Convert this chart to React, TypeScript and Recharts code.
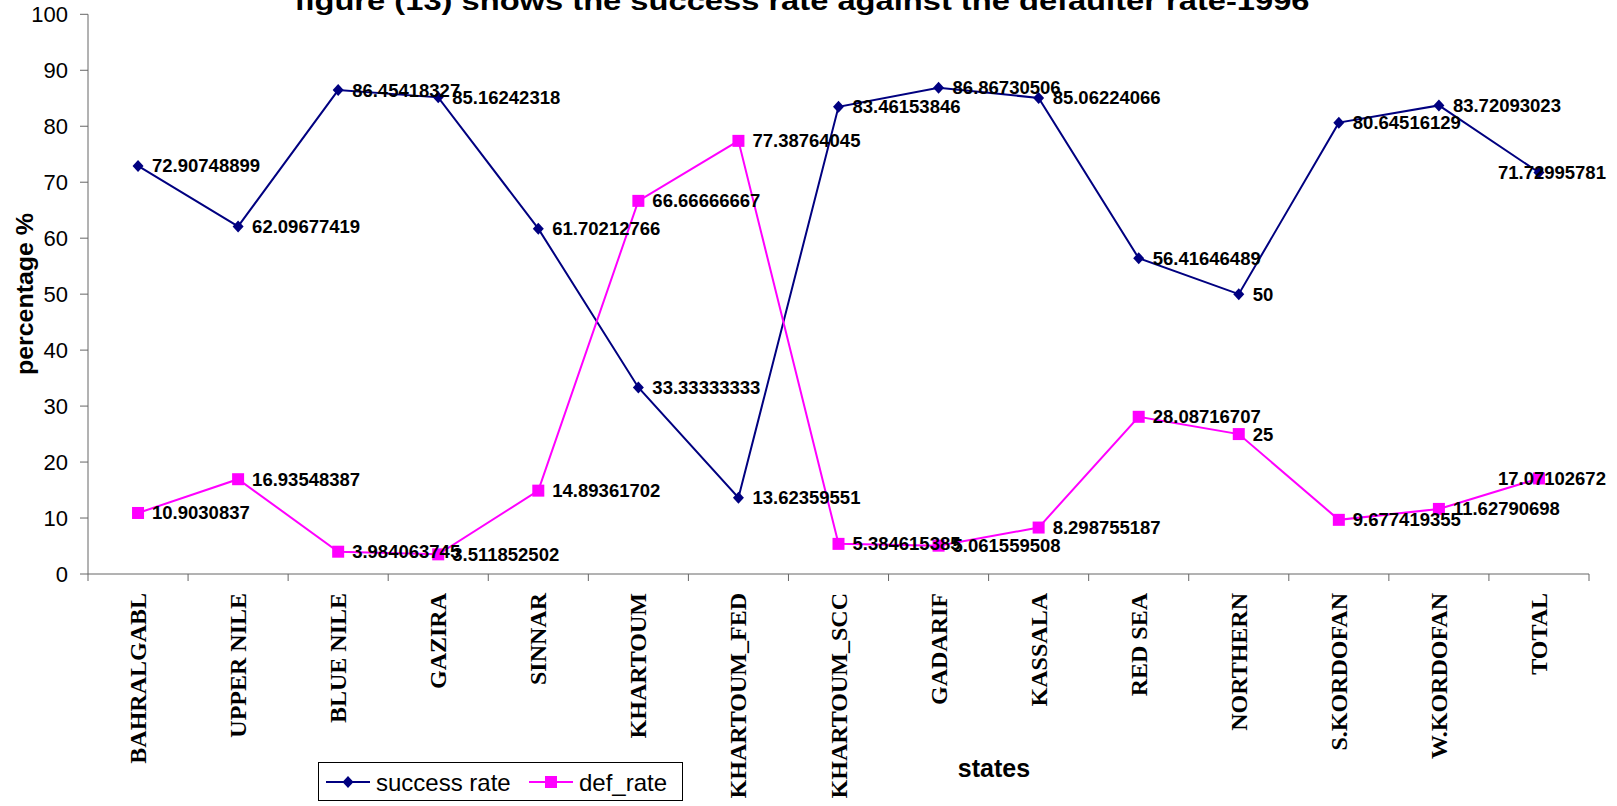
import { LineChart, Line, XAxis, YAxis, Legend, LabelList } from 'recharts';

const states = [
  'BAHRALGABL', 'UPPER NILE', 'BLUE NILE', 'GAZIRA', 'SINNAR', 'KHARTOUM', 'KHARTOUM_FED',
  'KHARTOUM_SCC', 'GADARIF', 'KASSALA', 'RED SEA', 'NORTHERN', 'S.KORDOFAN', 'W.KORDOFAN', 'TOTAL',
];

const successRate = [
  72.90748899, 62.09677419, 86.45418327, 85.16242318, 61.70212766, 33.33333333, 13.62359551,
  83.46153846, 86.86730506, 85.06224066, 56.41646489, 50, 80.64516129, 83.72093023, 71.72995781,
];

const defRate = [
  10.9030837, 16.93548387, 3.984063745, 3.511852502, 14.89361702, 66.66666667, 77.38764045,
  5.384615385, 5.061559508, 8.298755187, 28.08716707, 25, 9.677419355, 11.62790698, 17.07102672,
];

const yTicks = [0, 10, 20, 30, 40, 50, 60, 70, 80, 90, 100];

const title = 'figure (13) shows the success rate against the defaulter rate-1996';

const data = states.map((state, i) => ({ state, success: successRate[i], def: defRate[i] }));

const W = 1617;
const H = 806;
const PLOT_LEFT = 88;
const PLOT_RIGHT = 1589;
const PLOT_TOP = 14.3;
const PLOT_BOTTOM = 574;
const BAND = (PLOT_RIGHT - PLOT_LEFT) / states.length;

const NAVY = '#000080';
const MAGENTA = '#FF00FF';
const AXIS = '#666666';
const SANS = '"Liberation Sans", Arial, sans-serif';
const SERIF = '"Liberation Serif", "Times New Roman", serif';

const Diamond = ({ cx, cy }: { cx: number; cy: number }) => (
  <path d={`M${cx},${cy - 6}L${cx + 5.5},${cy}L${cx},${cy + 6}L${cx - 5.5},${cy}Z`} fill={NAVY} />
);

const Square = ({ cx, cy }: { cx: number; cy: number }) => (
  <rect x={cx - 6} y={cy - 6} width={12} height={12} fill={MAGENTA} />
);

const renderDiamond = (p: any) => <Diamond key={`d-${p.index}`} cx={p.cx} cy={p.cy} />;
const renderSquare = (p: any) => <Square key={`s-${p.index}`} cx={p.cx} cy={p.cy} />;

// value labels sit to the right of the marker; the last one is pushed back inside the chart
const renderValue = (p: any) => {
  const last = p.index === states.length - 1;
  return (
    <text
      x={last ? p.x + 67 : p.x + 14}
      y={p.y}
      textAnchor={last ? 'end' : 'start'}
      dominantBaseline="central"
      fontFamily={SANS}
      fontWeight="bold"
      fontSize={18.5}
      fill="#000"
    >
      {p.value}
    </text>
  );
};

const StateTick = (p: any) => {
  const bx = p.x + 8;
  const ty = 593;
  return (
    <g>
      <line x1={p.x - BAND / 2} x2={p.x - BAND / 2} y1={PLOT_BOTTOM} y2={PLOT_BOTTOM + 7} stroke={AXIS} />
      {p.index === states.length - 1 && (
        <line x1={p.x + BAND / 2} x2={p.x + BAND / 2} y1={PLOT_BOTTOM} y2={PLOT_BOTTOM + 7} stroke={AXIS} />
      )}
      <text
        x={bx}
        y={ty}
        transform={`rotate(-90 ${bx} ${ty})`}
        textAnchor="end"
        fontFamily={SERIF}
        fontWeight="bold"
        fontSize={24}
        fill="#000"
      >
        {p.payload.value}
      </text>
    </g>
  );
};

const renderYLabel = () => (
  <text
    x={24}
    y={294}
    transform="rotate(-90 24 294)"
    textAnchor="middle"
    dominantBaseline="central"
    fontFamily={SANS}
    fontWeight="bold"
    fontSize={24}
    textLength={162}
    lengthAdjust="spacingAndGlyphs"
    fill="#000"
  >
    percentage %
  </text>
);

const renderXLabel = () => (
  <text x={994} y={777} textAnchor="middle" fontFamily={SANS} fontWeight="bold" fontSize={25} fill="#000">
    states
  </text>
);

const renderLegend = () => (
  <svg width={366} height={40} style={{ display: 'block' }}>
    <rect x={0.5} y={0.5} width={364} height={38} fill="#fff" stroke="#000" />
    <line x1={8} x2={52} y1={20} y2={20} stroke={NAVY} strokeWidth={2} />
    <Diamond cx={30} cy={20} />
    <text x={58} y={20} dominantBaseline="central" fontFamily={SANS} fontSize={24} fill="#000">
      success rate
    </text>
    <line x1={211} x2={255} y1={20} y2={20} stroke={MAGENTA} strokeWidth={2} />
    <Square cx={233} cy={20} />
    <text x={261} y={20} dominantBaseline="central" fontFamily={SANS} fontSize={24} fill="#000">
      def_rate
    </text>
  </svg>
);

export default function App() {
  return (
    <div style={{ position: 'absolute', left: 0, top: 0, width: W, height: H, background: '#fff' }}>
      <LineChart
        width={W}
        height={H}
        data={data}
        margin={{ top: PLOT_TOP, right: W - PLOT_RIGHT, bottom: 0, left: 0 }}
      >
        <XAxis
          dataKey="state"
          scale="band"
          interval={0}
          height={H - PLOT_BOTTOM}
          stroke={AXIS}
          tickLine={false}
          tick={StateTick}
          label={renderXLabel}
        />
        <YAxis
          domain={[0, 100]}
          ticks={yTicks}
          width={PLOT_LEFT}
          stroke={AXIS}
          tickSize={8}
          tickMargin={12}
          tick={{ fill: '#000', fontSize: 22, fontFamily: SANS }}
          label={renderYLabel}
        />
        <Legend
          layout="horizontal"
          verticalAlign="middle"
          align="center"
          content={renderLegend}
          wrapperStyle={{ position: 'absolute', left: 318, top: 762, width: 366, height: 40 }}
        />
        <Line
          dataKey="success"
          name="success rate"
          stroke={NAVY}
          strokeWidth={2}
          dot={renderDiamond}
          activeDot={false}
          isAnimationActive={false}
        />
        <Line
          dataKey="def"
          name="def_rate"
          stroke={MAGENTA}
          strokeWidth={2}
          dot={renderSquare}
          activeDot={false}
          isAnimationActive={false}
        />
        <Line dataKey="success" stroke="none" dot={false} legendType="none" isAnimationActive={false}>
          <LabelList dataKey="success" content={renderValue} />
        </Line>
        <Line dataKey="def" stroke="none" dot={false} legendType="none" isAnimationActive={false}>
          <LabelList dataKey="def" content={renderValue} />
        </Line>
      </LineChart>
      <svg width={W} height={H} style={{ position: 'absolute', left: 0, top: 0, pointerEvents: 'none' }}>
        <text
          x={802}
          y={10}
          textAnchor="middle"
          fontFamily={SANS}
          fontWeight="bold"
          fontSize={26}
          textLength={1015}
          lengthAdjust="spacingAndGlyphs"
          fill="#000"
        >
          {title}
        </text>
      </svg>
    </div>
  );
}
